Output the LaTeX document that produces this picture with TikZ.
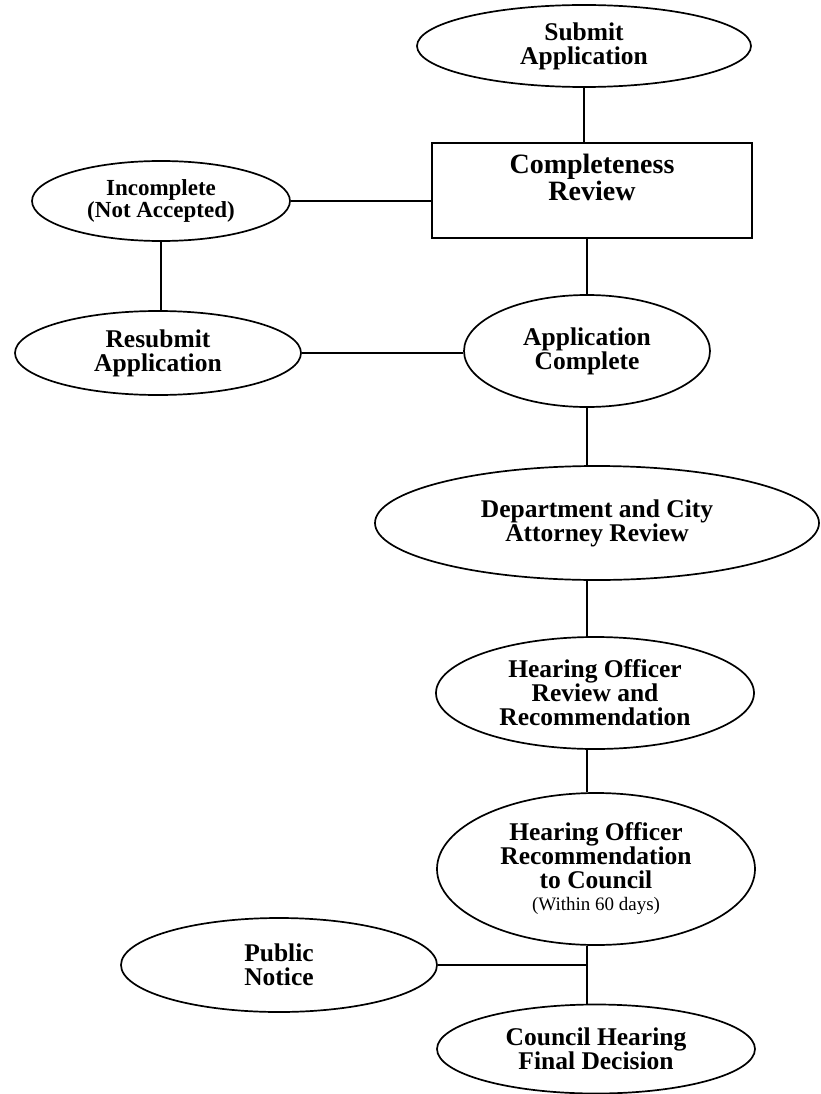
\documentclass[tikz,border=0pt]{standalone}
\usepackage{fontspec}
\setmainfont{Liberation Serif}
\usetikzlibrary{shapes.geometric}
\begin{document}
\begin{tikzpicture}[x=1pt,y=-1pt,
  line width=1.7pt,
  oval/.style={ellipse, draw, inner sep=0pt, align=center,
    font=\bfseries\fontsize{25.5}{24}\selectfont},
  smalloval/.style={oval, font=\bfseries\fontsize{23}{22}\selectfont},
  stepbox/.style={rectangle, draw, inner sep=0pt, align=center,
    font=\bfseries\fontsize{28}{27}\selectfont},
  link/.style={draw, line width=1.7pt}]
\fill[white] (0,0) rectangle (820,1094);
\useasboundingbox (0,0) rectangle (820,1094);

% main column
\node[oval, minimum width=334, minimum height=82] (submit) at (584,46) {Submit\\Application};
\node[stepbox, minimum width=320, minimum height=95] (review) at (592,190.5) {Completeness\\Review\\\mbox{}};
\node[oval, minimum width=246, minimum height=112] (complete) at (587,351) {Application\\Complete};
\node[oval, minimum width=444, minimum height=114] (dept) at (597,523) {Department and City\\Attorney Review};
\node[oval, minimum width=318, minimum height=112] (hearing) at (595,693) {Hearing Officer\\Review and\\Recommendation};
\node[oval, minimum width=318, minimum height=152] (torecommend) at (596,869)
  {Hearing Officer\\Recommendation\\to Council\\[-2pt]{\mdseries\fontsize{19}{20}\selectfont (Within 60 days)}};
\node[oval, minimum width=318, minimum height=89] (council) at (596,1049) {Council Hearing\\Final Decision};

% side branches
\node[smalloval, minimum width=258, minimum height=80] (incomplete) at (161,201) {Incomplete\\(Not Accepted)};
\node[oval, minimum width=286, minimum height=84] (resubmit) at (158,353) {Resubmit\\Application};
\node[oval, minimum width=316, minimum height=94] (notice) at (279,965) {Public\\Notice};

% vertical spine of the main column
\coordinate (spine) at (587,0);

% connectors
\draw[link] (submit.south) -- (submit.south |- review.north);
\draw[link] (incomplete.east) -- (incomplete.east -| review.west);
\draw[link] (spine |- review.south) -- (complete.north);
\draw[link] (incomplete.south) -- (incomplete.south |- resubmit.north);
\draw[link] (resubmit.east) -- (resubmit.east -| complete.west);
\draw[link] (complete.south) -- (spine |- dept.north);
\draw[link] (spine |- dept.south) -- (spine |- hearing.north);
\draw[link] (spine |- hearing.south) -- (spine |- torecommend.north);
\draw[link] (spine |- torecommend.south) -- (spine |- council.north);
\coordinate (join) at (spine |- notice.east);
\draw[link] (notice.east) -- (join);
\end{tikzpicture}
\end{document}
